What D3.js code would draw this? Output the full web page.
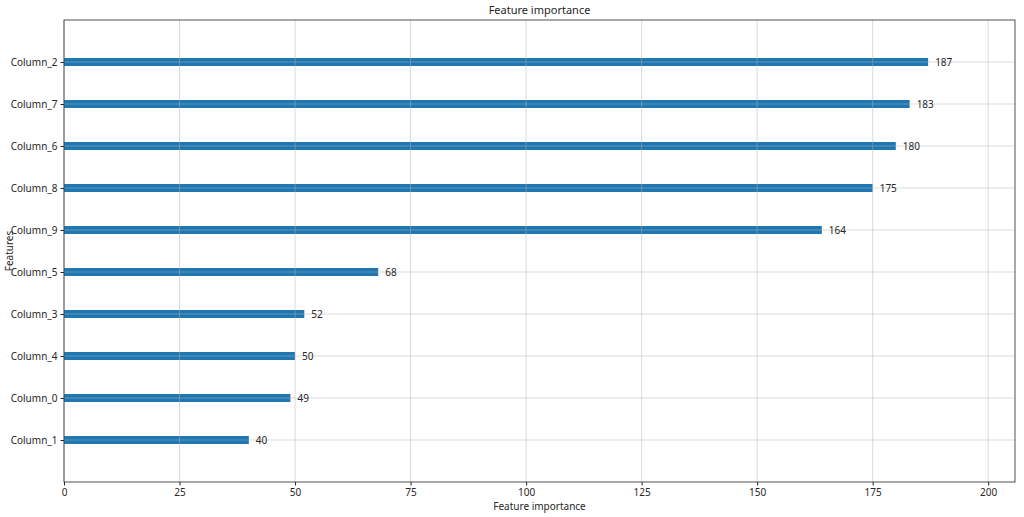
<!DOCTYPE html>
<html><head><meta charset="utf-8">
<script src="https://cdn.jsdelivr.net/npm/d3@7"></script>
<style>body{margin:0;background:#fff}text{font-family:"Noto Sans",sans-serif;fill:#262626}</style>
</head><body>
<svg id="c" width="1024" height="517"></svg>
<script>
// ordered bottom to top
const features = ["Column_1", "Column_0", "Column_4", "Column_3", "Column_5", "Column_9", "Column_8", "Column_6", "Column_7", "Column_2"];
const importance = [40, 49, 50, 52, 68, 164, 175, 180, 183, 187];
const xTicks = [0, 25, 50, 75, 100, 125, 150, 175, 200];

const svg = d3.select("#c");
const mLeft = 64, mRight = 1015, mTop = 20, mBottom = 482;
const x = d3.scaleLinear().domain([0, 205.8]).range([mLeft, mRight]);
const y = d3.scaleLinear().domain([-1, features.length]).range([mBottom, mTop]);

const barH = 8;
svg.selectAll("rect.bar").data(importance).join("rect")
  .attr("x", x(0)).attr("y", (d, i) => y(i) - barH / 2)
  .attr("width", d => x(d) - x(0)).attr("height", barH)
  .attr("fill", "#1f77b4");

// grid over bars
const g = svg.append("g").attr("stroke", "#b0b0b0").attr("stroke-opacity", 0.6).attr("stroke-width", 0.8);
g.selectAll("line.v").data(xTicks).join("line")
  .attr("x1", d => x(d)).attr("x2", d => x(d)).attr("y1", mTop).attr("y2", mBottom);
g.selectAll("line.h").data(features).join("line")
  .attr("x1", mLeft).attr("x2", mRight).attr("y1", (d, i) => y(i)).attr("y2", (d, i) => y(i));

svg.selectAll("text.val").data(importance).join("text")
  .attr("x", d => x(d) + 7).attr("y", (d, i) => y(i) + 3.5)
  .attr("font-size", 10).text(d => d);

const xa = svg.append("g").attr("transform", `translate(0,${mBottom})`)
  .call(d3.axisBottom(x).tickValues(xTicks).tickSize(3.5).tickPadding(3));
const ya = svg.append("g").attr("transform", `translate(${mLeft},0)`)
  .call(d3.axisLeft(y).tickValues(d3.range(features.length)).tickFormat(i => features[i]).tickSize(3.5).tickPadding(3));
[xa, ya].forEach(a => {
  a.select(".domain").remove();
  a.selectAll("text").attr("font-size", 10).style("font-family", "Noto Sans").attr("fill", "#262626");
  a.selectAll("line").attr("stroke", "#262626");
});

svg.append("rect").attr("x", mLeft).attr("y", mTop).attr("width", mRight - mLeft).attr("height", mBottom - mTop)
  .attr("fill", "none").attr("stroke", "#262626").attr("stroke-width", 0.8);

svg.append("text").attr("x", (mLeft + mRight) / 2).attr("y", 14).attr("text-anchor", "middle").attr("font-size", 11).text("Feature importance");
svg.append("text").attr("x", (mLeft + mRight) / 2).attr("y", 510).attr("text-anchor", "middle").attr("font-size", 10).text("Feature importance");
svg.append("text").attr("transform", `translate(13,${(mTop + mBottom) / 2}) rotate(-90)`).attr("text-anchor", "middle").attr("font-size", 10).text("Features");
</script>
</body></html>
